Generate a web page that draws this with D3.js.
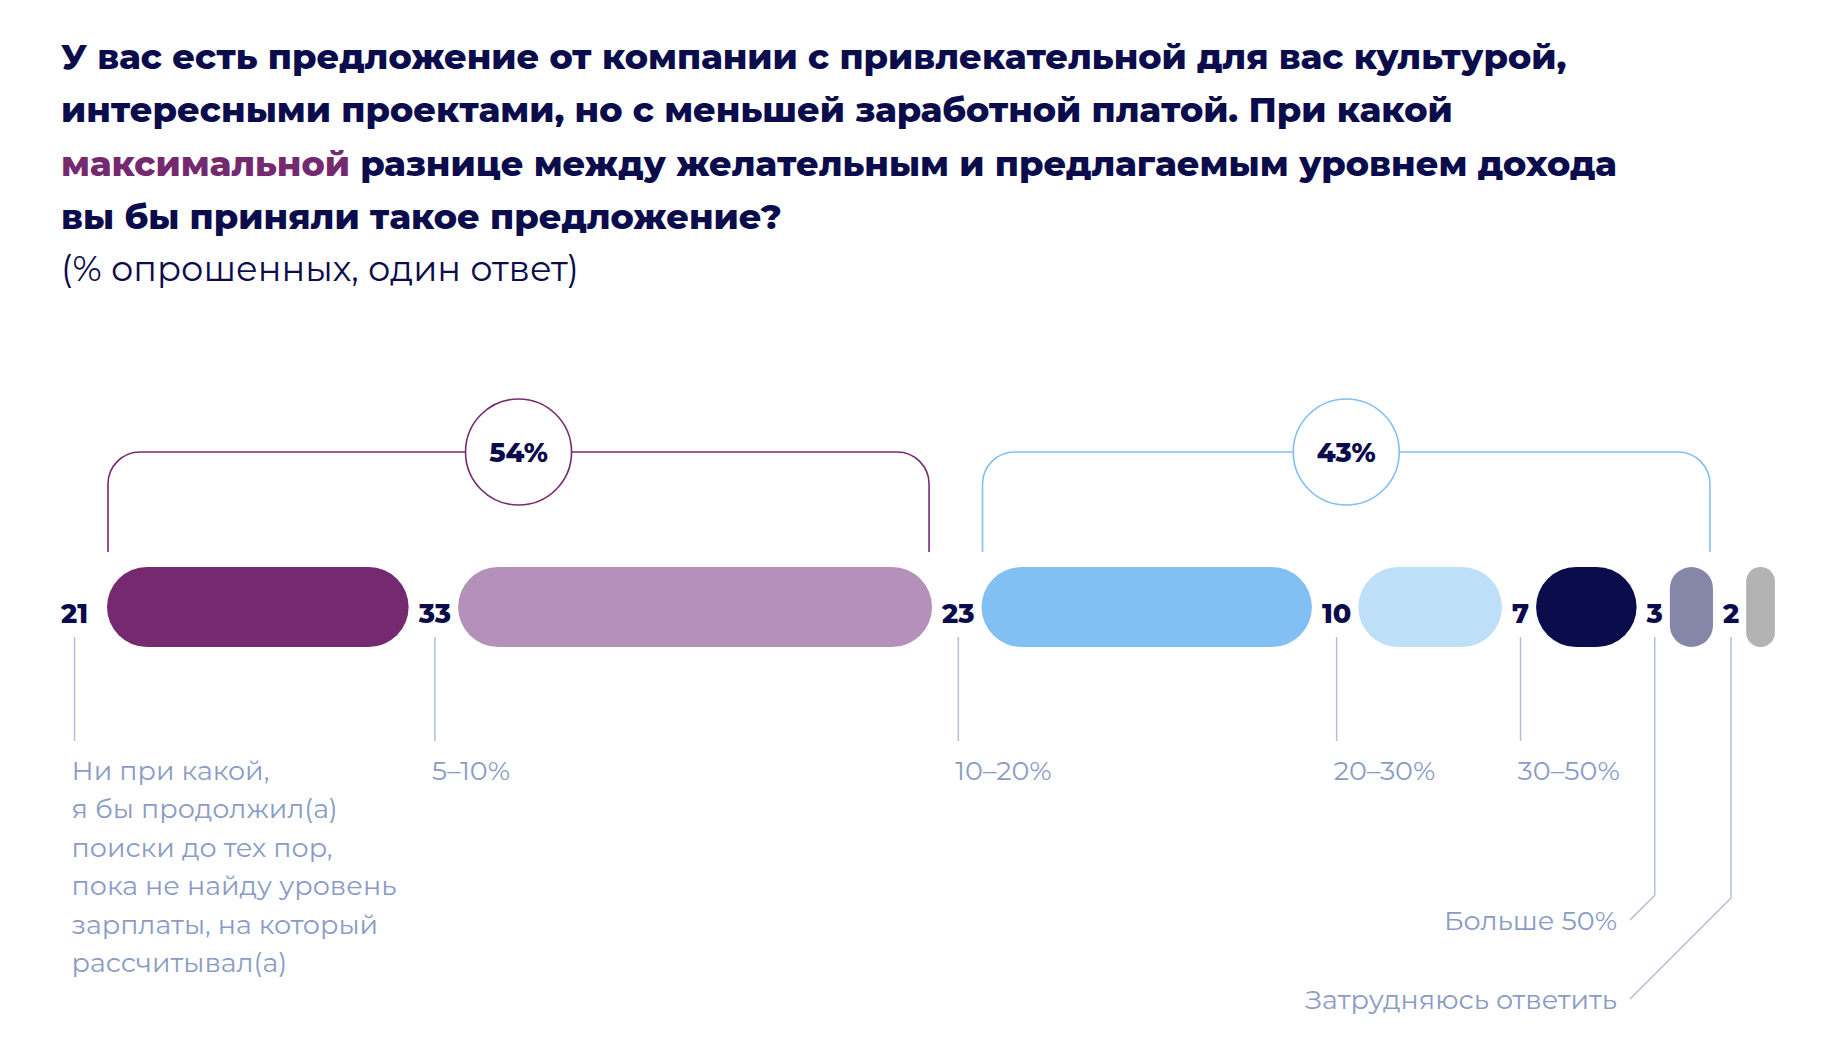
<!DOCTYPE html>
<html lang="ru">
<head>
<meta charset="utf-8">
<script src="https://cdn.jsdelivr.net/npm/d3@7"></script>
<style>
  body { margin: 0; background: #fff; }
  svg text { font-family: Montserrat, Inter, "Noto Sans", sans-serif; }
</style>
</head>
<body>
<div id="chart"></div>
<script>

// data
var categories = [
    ["Ни при какой,", "я бы продолжил(а)", "поиски до тех пор,", "пока не найду уровень", "зарплаты, на который", "рассчитывал(а)"],
    ["5–10%"],
    ["10–20%"],
    ["20–30%"],
    ["30–50%"],
    ["Больше 50%"],
    ["Затрудняюсь ответить"]
];
var values = [21, 33, 23, 10, 7, 3, 2];
var barColors = ["#752a70", "#b391b8", "#82bff3", "#bde0f8", "#0b0c4c", "#8687a8", "#b3b3b3"];

// which answers are summed in the bracket totals
var groups = [[0, 1], [2, 3, 4, 5]];
var groupColors = ["#752a70", "#82bff3"];

var titleLines = [
    [["У вас есть предложение от компании с привлекательной для вас культурой,", 0]],
    [["интересными проектами, но с меньшей заработной платой. При какой", 0]],
    [["максимальной", 1], [" разнице между желательным и предлагаемым уровнем дохода", 0]],
    [["вы бы приняли такое предложение?", 0]]
];
var subtitle = "(% опрошенных, один ответ)";

var navy = "#0b0c4c",
    labelGrey = "#8a9cc6",
    leaderGrey = "#b3bedb";

var width = 1834, height = 1056;
var margin = {left: 61};

var svg = d3.select("#chart").append("svg")
    .attr("width", width)
    .attr("height", height);

// title
var title = svg.append("g");
titleLines.forEach(function(line, i) {
    var t = title.append("text")
        .attr("x", margin.left)
        .attr("y", 69 + i * 53.3)
        .attr("font-weight", 800)
        .attr("font-size", 34);
    line.forEach(function(seg) {
        t.append("tspan")
            .attr("fill", seg[1] ? "#752a70" : navy)
            .text(seg[0]);
    });
});
// fonts differ from the original, so size the title to the same line width
var first = title.select("text").node();
var titleSize = 34 * 1506 / first.getComputedTextLength();
title.selectAll("text").attr("font-size", titleSize);

var sub = svg.append("text")
    .attr("x", margin.left)
    .attr("y", 281)
    .attr("fill", navy)
    .attr("font-size", 30)
    .text(subtitle);
sub.attr("font-size", 30 * 518 / sub.node().getComputedTextLength());

// bars
var x = d3.scaleLinear()
    .domain([0, d3.max(values)])
    .range([0, 474]);

var x0 = 107, barY = 567, barH = 80;

// value labels first: their widths set the spacing between the bars
var valLabels = svg.append("g")
    .selectAll("text")
    .data(values)
    .enter()
    .append("text")
    .attr("y", 623)
    .attr("font-weight", 800)
    .attr("font-size", 27)
    .attr("fill", navy)
    .text(function(d) { return d; });

var labelW = [];
valLabels.each(function() { labelW.push(this.getComputedTextLength()); });

var barX = [];
var cur = x0;
values.forEach(function(v, i) {
    if (i > 0) cur += 10 + labelW[i] + 7;
    barX.push(cur);
    cur += x(v);
});

valLabels
    .attr("x", function(d, i) { return i === 0 ? margin.left : barX[i] - 7; })
    .attr("text-anchor", function(d, i) { return i === 0 ? "start" : "end"; });

var lineX = values.map(function(d, i) {
    return i === 0 ? margin.left + labelW[i] / 2 : barX[i] - 7 - labelW[i] / 2;
});

svg.append("g")
    .selectAll("rect")
    .data(values)
    .enter()
    .append("rect")
    .attr("x", function(d, i) { return barX[i]; })
    .attr("y", barY)
    .attr("width", function(d) { return x(d); })
    .attr("height", barH)
    .attr("rx", function(d) { return Math.min(x(d), barH) / 2; })
    .attr("ry", function(d) { return Math.min(x(d), barH) / 2; })
    .attr("fill", function(d, i) { return barColors[i]; });

// leader lines and category names
var elbowX = 1630, rightEdge = 1617;
var lowBaselines = {5: 930, 6: 1009};

var leaders = svg.append("g")
    .attr("fill", "none")
    .attr("stroke", leaderGrey)
    .attr("stroke-width", 1.5);

categories.forEach(function(lines, i) {
    var lx = lineX[i];
    if (lowBaselines[i]) {
        var endY = lowBaselines[i] - 10;
        var elbowY = endY - (lx - elbowX);
        leaders.append("path")
            .attr("d", "M" + lx + ",637V" + elbowY + "L" + elbowX + "," + endY);
    } else {
        leaders.append("line")
            .attr("x1", lx).attr("x2", lx)
            .attr("y1", 637).attr("y2", 741);
    }
});

var catLabels = svg.append("g")
    .selectAll("text")
    .data(categories)
    .enter()
    .append("text")
    .attr("fill", labelGrey)
    .attr("font-size", 24)
    .attr("text-anchor", function(d, i) { return lowBaselines[i] ? "end" : "start"; })
    .attr("transform", function(d, i) {
        if (lowBaselines[i]) return "translate(" + rightEdge + "," + lowBaselines[i] + ")";
        return "translate(" + (lineX[i] - 3) + ",780)";
    });

catLabels.selectAll("tspan")
    .data(function(d) { return d; })
    .enter()
    .append("tspan")
    .attr("x", 0)
    .attr("dy", function(d, j) { return j === 0 ? 0 : 38.4; })
    .text(function(d) { return d; });

// size the grey labels so the longest line is as wide as in the original
var probe = catLabels.filter(function(d, i) { return i === 0; })
    .selectAll("tspan").filter(function(d, j) { return j === 3; }).node();
var catSize = 24 * 325 / probe.getComputedTextLength();
catLabels.attr("font-size", catSize);

// brackets with totals
groups.forEach(function(g, k) {
    var a = g[0], b = g[g.length - 1];
    var x1 = barX[a] + 1,
        x2 = barX[b] + x(values[b]) - 3,
        top = 452, bottom = 552, r = 32;
    var total = d3.sum(g, function(i) { return values[i]; });
    var mid = (x1 + x2) / 2;

    svg.append("path")
        .attr("d", "M" + x1 + "," + bottom + "V" + (top + r) +
            "A" + r + "," + r + " 0 0 1 " + (x1 + r) + "," + top +
            "H" + (x2 - r) +
            "A" + r + "," + r + " 0 0 1 " + x2 + "," + (top + r) +
            "V" + bottom)
        .attr("fill", "none")
        .attr("stroke", groupColors[k])
        .attr("stroke-width", 1.6);

    svg.append("circle")
        .attr("cx", mid)
        .attr("cy", top)
        .attr("r", 53)
        .attr("fill", "#fff")
        .attr("stroke", groupColors[k])
        .attr("stroke-width", 1.6);

    svg.append("text")
        .attr("x", mid)
        .attr("y", top + 10)
        .attr("text-anchor", "middle")
        .attr("font-weight", 800)
        .attr("font-size", 27)
        .attr("fill", navy)
        .text(total + "%");
});

</script>
</body>
</html>
